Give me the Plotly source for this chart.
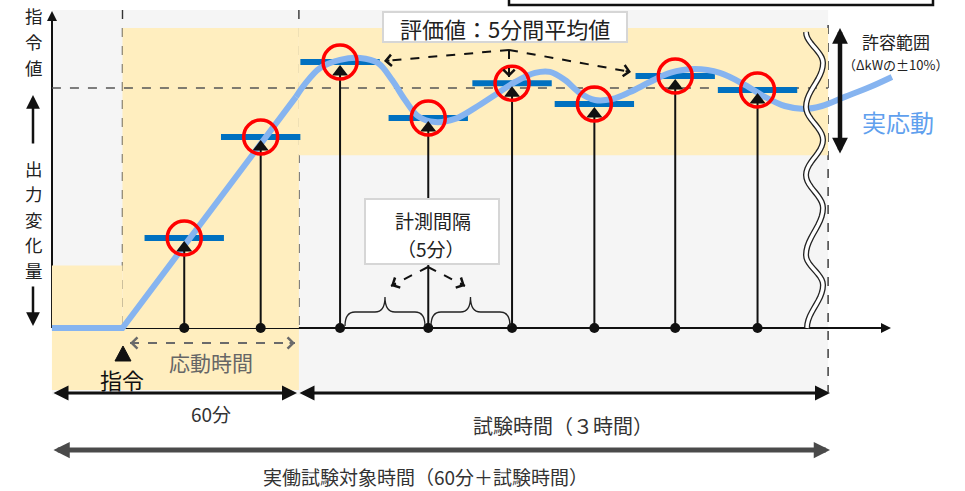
import numpy as np
import plotly.graph_objects as go

# ---------------- data (schematic values) ----------------
# measurement instants (minutes after command) and 5-min average output (% of command value)
sample_time_min = [21, 47, 74, 104, 132.5, 160.5, 188, 216]
avg_output_pct = [37.5, 79.6, 110.8, 87.5, 102.0, 93.3, 105.0, 99.2]

# actual response curve (minutes, % of command value)
response_time_min = [-24.0, 0.0, 59.0, 62.1, 67.2, 74.0, 80.8, 86.9, 91.7, 96.1, 100.5, 106.3,
                     113.1, 119.9, 126.7, 133.5, 140.3, 145.4, 150.5, 155.6, 160.7, 166.5,
                     172.6, 179.4, 186.2, 194.7, 203.2, 211.7, 218.5, 225.3, 232.1, 237.9,
                     245.7, 254.2, 261.7]
response_output_pct = [0, 0, 96.3, 101.7, 108.3, 111.7, 112.5, 110.4, 103.3, 95.0, 88.3, 85.8,
                       87.1, 91.7, 97.1, 102.5, 106.3, 106.7, 103.3, 97.9, 95.0, 95.4,
                       98.3, 102.5, 106.3, 107.9, 106.3, 101.3, 96.3, 92.5, 91.3, 92.5,
                       96.3, 100.4, 104.6]
RAMP_END = 2

command_pct = 100
tolerance_hi_pct = 125
tolerance_lo_pct = 72
initial_band_pct = 26
pre_start_min = -24
response_window_min = 60
test_end_min = 240
avg_window_min = 27  # drawn width of the averaging bar (schematic)

# ---------------- scales / helpers ----------------
W, H = 965, 491
X0, KX = 122.5, 2.94   # pixel of t=0, pixels per minute
Y0, KY = 328.0, 2.4    # pixel of output 0, pixels per %
XR = [(0 - X0) / KX, (W - X0) / KX]
YR = [(Y0 - H) / KY, Y0 / KY]
FONT = "Noto Sans CJK JP"


def px(x):
    return x / W


def py(y):
    return 1 - y / H


fig = go.Figure()

# ---------------- background shapes ----------------
shapes = []
YEL = "#FFEEBF"
GRAY = "#F5F5F5"


def rect(x0, x1, y0, y1, color, xref="x", yref="y", layer="below", border=None, bw=0):
    shapes.append(dict(type="rect", xref=xref, yref=yref, x0=x0, x1=x1, y0=y0, y1=y1,
                       fillcolor=color, line=dict(width=bw, color=border or color), layer=layer))


rect(pre_start_min, test_end_min, py(395), py(10), GRAY, yref="paper")
rect(pre_start_min, response_window_min, py(390), py(Y0), YEL, yref="paper")
rect(pre_start_min, 0, 0, initial_band_pct, YEL)
rect(0, response_window_min, 0, tolerance_hi_pct, YEL)
rect(response_window_min, test_end_min, tolerance_lo_pct, tolerance_hi_pct, YEL)


def line(x0, y0, x1, y1, color="#222", width=1.5, dash=None, xref="paper", yref="paper", layer="below"):
    d = dict(type="line", xref=xref, yref=yref, x0=x0, y0=y0, x1=x1, y1=y1,
             line=dict(color=color, width=width), layer=layer)
    if dash:
        d["line"]["dash"] = dash
    shapes.append(d)


# dashed guides
line(0, py(10), 0, py(Y0), "#333", 1.4, "dash", xref="x")
line(response_window_min, py(10), response_window_min, py(Y0), "#333", 1.4, "dash", xref="x")
line(test_end_min, py(25), test_end_min, py(392), "#333", 1.4, "dash", xref="x")
line(pre_start_min, command_pct, test_end_min, command_pct, "#555", 1.3, "dash", xref="x", yref="y")

# axes lines
line(px(52), py(Y0), px(884), py(Y0), "#111", 2)
line(px(52), py(Y0), px(52), py(18), "#111", 2)

# wave break symbol
ext = [(806, 32), (823, 63), (806, 107), (823, 140), (806, 175), (823, 208), (806, 255), (823, 285), (807, 328)]
pts = []
for (xa, ya), (xb, yb) in zip(ext[:-1], ext[1:]):
    for s in np.linspace(0, 1, 12)[:-1]:
        pts.append((xa + (xb - xa) * (1 - np.cos(np.pi * s)) / 2, ya + (yb - ya) * s))
pts.append(ext[-1])
wpath = "M " + " L ".join(f"{px(a):.5f},{py(b):.5f}" for a, b in pts)
shapes.append(dict(type="path", xref="paper", yref="paper", path=wpath, line=dict(color="#222", width=6), layer="above"))
shapes.append(dict(type="path", xref="paper", yref="paper", path=wpath, line=dict(color="white", width=3.4), layer="above"))


# braces
def brace(xa, xb, ytop, ymid, ybot):
    xm = (xa + xb) / 2
    p = [("M", xa, ybot), ("Q", xa, ymid, xa + 10, ymid), ("L", xm - 10, ymid),
         ("Q", xm, ymid, xm, ytop), ("Q", xm, ymid, xm + 10, ymid), ("L", xb - 10, ymid),
         ("Q", xb, ymid, xb, ybot)]
    s = ""
    for c in p:
        s += c[0] + " " + " ".join(
            f"{px(c[i]):.5f},{py(c[i + 1]):.5f}" for i in range(1, len(c), 2)) + " "
    shapes.append(dict(type="path", xref="paper", yref="paper", path=s,
                       line=dict(color="#222", width=1.3), layer="above"))


brace(345, 425, 297, 312, 326)
brace(431, 510, 297, 312, 326)

# command marker triangle
tri = [(123, 346), (131, 361), (115, 361)]
shapes.append(dict(type="path", xref="paper", yref="paper",
                   path="M " + " L ".join(f"{px(a):.5f},{py(b):.5f}" for a, b in tri) + " Z",
                   fillcolor="#111", line=dict(color="#111", width=1), layer="above"))

# top-right frame (partially visible)
rect(px(509), px(933), py(5), py(-20), "white", xref="paper", yref="paper", layer="above", border="#111", bw=2.5)

# ---------------- traces ----------------
# averaging bars
bx, by = [], []
for t, v in zip(sample_time_min, avg_output_pct):
    bx += [t - avg_window_min / 2, t + avg_window_min / 2, None]
    by += [v, v, None]
fig.add_trace(go.Scatter(x=bx, y=by, mode="lines", line=dict(color="#0070C0", width=6), hoverinfo="skip"))

# actual response
fig.add_trace(go.Scatter(x=response_time_min[:RAMP_END + 1], y=response_output_pct[:RAMP_END + 1],
                         mode="lines", line=dict(color="#86B4F0", width=6), hoverinfo="skip"))
fig.add_trace(go.Scatter(x=response_time_min[RAMP_END:], y=response_output_pct[RAMP_END:],
                         mode="lines", line=dict(color="#86B4F0", width=6, shape="spline", smoothing=1.0),
                         hoverinfo="skip"))

# stems
sx, sy = [], []
TRI = 14
for t, v in zip(sample_time_min, avg_output_pct):
    sx += [t, t, None]
    sy += [0, v - (TRI / 2 + 4) / KY, None]
fig.add_trace(go.Scatter(x=sx, y=sy, mode="lines", line=dict(color="#111", width=2), hoverinfo="skip"))
fig.add_trace(go.Scatter(x=sample_time_min, y=[v - (TRI / 2 + 3) / KY for v in avg_output_pct],
                         mode="markers", marker=dict(symbol="triangle-up", size=TRI, color="#111"),
                         hoverinfo="skip"))
fig.add_trace(go.Scatter(x=sample_time_min, y=[0] * len(sample_time_min), mode="markers",
                         marker=dict(size=10, color="#111"), hoverinfo="skip"))
fig.add_trace(go.Scatter(x=sample_time_min, y=avg_output_pct, mode="markers",
                         marker=dict(symbol="circle-open", size=34, color="#FF0000",
                                     line=dict(width=3.5, color="#FF0000")), hoverinfo="skip"))

# ---------------- annotations ----------------
ann = []


def text(x, y, s, size, color="#222", **kw):
    d = dict(x=px(x), y=py(y), xref="paper", yref="paper", text=s, showarrow=False,
             font=dict(size=size, color=color, family=FONT), xanchor="center", yanchor="middle")
    d.update(kw)
    ann.append(d)


def arrow(x1, y1, x0, y0, width, color, size, head=2, both=False):
    d = dict(x=px(x1), y=py(y1), xref="paper", yref="paper", ax=x0 - x1, ay=y0 - y1,
             text="", showarrow=True, arrowhead=head, arrowsize=size, arrowwidth=width,
             arrowcolor=color, standoff=0, startstandoff=0)
    if both:
        d.update(arrowside="end+start", startarrowhead=head, startarrowsize=size)
    ann.append(d)


def dashed_arrow(x0, y0, x1, y1, color="#111", width=2, size=1.1, both=False):
    line(px(x0), py(y0), px(x1), py(y1), color, width, "dash", layer="above")
    L = np.hypot(x1 - x0, y1 - y0)
    ux, uy = (x1 - x0) / L, (y1 - y0) / L
    arrow(x1, y1, x1 - ux * 7, y1 - uy * 7, width, color, size, head=4)
    if both:
        arrow(x0, y0, x0 + ux * 7, y0 + uy * 7, width, color, size, head=4)


# axis heads
arrow(52, 11, 52, 22, 2, "#111", 1.0)
arrow(891, Y0, 880, Y0, 2, "#111", 1.0)

# left axis label (vertical, one character per annotation)
for ch, yy in zip("指令値", [16, 41.5, 67]):
    text(34, yy, ch, 17.5, "#222")
arrow(33, 95, 33, 145, 2.5, "#111", 1.1)
for ch, yy in zip("出力変化量", [168, 193.5, 219, 244.5, 270]):
    text(34, yy, ch, 17.5, "#222")
arrow(33, 326, 33, 285, 2.5, "#111", 1.1)

# command label
text(122, 379, "指令", 22, "#111")
text(211, 362, "応動時間", 21, "#666")
dashed_arrow(130, 343, 295, 343, "#6a6a6a", 2, 1.1, both=True)

# bottom span arrows
arrow(297, 393, 52, 393, 3, "#111", 1.0, both=True)
arrow(830, 393, 298, 393, 3, "#111", 1.0, both=True)
text(211, 413, "60分", 19, "#333")
text(563, 425, "試験時間（３時間）", 20, "#333")
arrow(830, 450, 52, 450, 5, "#4a4a4a", 0.65, both=True)
text(425, 476, "実働試験対象時間（60分＋試験時間）", 19, "#333")

# tolerance
arrow(840, 28, 840, 155, 4.5, "#111", 0.7, both=True)
text(896, 41, "許容範囲", 17, "#222")
text(896, 64.5, "（ΔkWの±10%）", 13, "#222")
text(898, 122, "実応動", 24, "#5FA0EE")

# evaluation box + arrows
dashed_arrow(509, 50, 384, 61)
dashed_arrow(509, 50, 631, 72)
dashed_arrow(509, 50, 509, 77)
rect(px(383), px(627), py(42), py(12), "white", xref="paper", yref="paper", layer="above",
     border="#d6d6d6", bw=2)
text(505, 28, "評価値：5分間平均値", 22, "#222")

# measurement interval box + arrows
dashed_arrow(428, 267, 391, 286)
dashed_arrow(428, 267, 465, 286)
rect(px(365), px(499), py(264), py(199), "white", xref="paper", yref="paper", layer="above",
     border="#d6d6d6", bw=2)
text(433, 221, "計測間隔", 19, "#222")
text(431, 248, "（5分）", 19, "#222")

fig.update_layout(
    width=W, height=H, margin=dict(l=0, r=0, t=0, b=0),
    paper_bgcolor="white", plot_bgcolor="white", showlegend=False,
    xaxis=dict(range=XR, visible=False, fixedrange=True),
    yaxis=dict(range=YR, visible=False, fixedrange=True),
    shapes=shapes, annotations=ann,
)
fig.write_html("out.html", config={"displayModeBar": False},
               post_script="document.body.style.margin='0';document.body.style.padding='0';"
                           "document.body.style.overflow='hidden';")
